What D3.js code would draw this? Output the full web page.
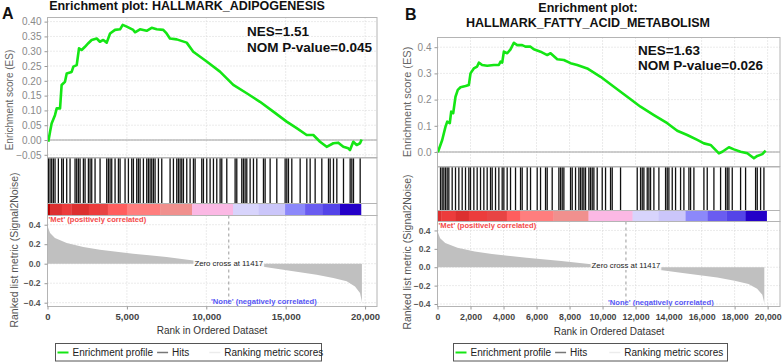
<!DOCTYPE html>
<html>
<head>
<meta charset="utf-8">
<script src="https://cdn.jsdelivr.net/npm/d3@7"></script>
<style>
body { margin: 0; background: #fff; }
svg { display: block; font-family: "Liberation Sans", Arial, sans-serif; }
</style>
</head>
<body>
<svg width="783" height="362"></svg>
<script>
// running enrichment score, panel A (rank, ES)
const esRanksA = [50, 160, 260, 470, 580, 790, 890, 1100, 1210, 1520, 1630, 1840, 1985, 2150, 2360, 2570, 2780, 3100, 3300, 3510, 3730, 3940, 4250, 4570, 4735, 4990, 5400, 5510, 5825, 6245, 6560, 6875, 7290, 7500, 7710, 8140, 8765, 9180, 10025, 10860, 11700, 12545, 13380, 14220, 15060, 15690, 16320, 16740, 17160, 17580, 18000, 18310, 18630, 18940, 19050, 19255, 19470, 19680, 19785];
const esValuesA = [-0.006, 0.028, 0.056, 0.084, 0.107, 0.107, 0.186, 0.197, 0.225, 0.23, 0.248, 0.253, 0.31, 0.304, 0.315, 0.327, 0.338, 0.343, 0.332, 0.338, 0.329, 0.36, 0.372, 0.374, 0.389, 0.383, 0.372, 0.364, 0.374, 0.369, 0.379, 0.374, 0.372, 0.36, 0.343, 0.34, 0.329, 0.298, 0.265, 0.231, 0.186, 0.158, 0.129, 0.096, 0.062, 0.04, 0.017, 0.017, -0.006, -0.023, -0.011, -0.009, -0.023, -0.028, -0.034, -0.006, -0.017, -0.011, 0.002];

// running enrichment score, panel B
const esRanksB = [20, 140, 285, 485, 590, 745, 830, 950, 1090, 1230, 1395, 1700, 1900, 2000, 2200, 2400, 2505, 2705, 3010, 3415, 3715, 3820, 3920, 4020, 4225, 4425, 4625, 4830, 5130, 5330, 5636, 5835, 6240, 6650, 6850, 7255, 7655, 8060, 8465, 9070, 9880, 10685, 11495, 12300, 13110, 13920, 14525, 15130, 15740, 16140, 16545, 17050, 17255, 17655, 17960, 18360, 18770, 19170, 19375, 19680, 19880];
const esValuesB = [-0.001, 0.02, 0.046, 0.097, 0.116, 0.11, 0.154, 0.148, 0.211, 0.237, 0.247, 0.252, 0.256, 0.3, 0.319, 0.326, 0.341, 0.332, 0.329, 0.332, 0.332, 0.345, 0.341, 0.383, 0.377, 0.392, 0.417, 0.408, 0.408, 0.402, 0.402, 0.392, 0.383, 0.37, 0.377, 0.354, 0.351, 0.339, 0.332, 0.319, 0.287, 0.249, 0.211, 0.173, 0.141, 0.11, 0.081, 0.065, 0.046, 0.033, 0.027, -0.005, 0.001, 0.018, 0.01, 0.001, -0.005, -0.024, -0.015, -0.008, 0.005];

// gene set hits (rank positions)
const hitsA = [55, 160, 265, 370, 475, 685, 895, 1000, 1210, 1420, 1735, 1840, 1945, 2050, 2260, 2365, 2575, 2680, 2785, 2995, 3310, 3730, 3835, 3940, 4045, 4255, 4465, 4570, 4885, 5095, 5305, 5410, 5620, 5725, 5830, 6040, 6250, 6355, 6460, 6565, 6670, 6775, 6985, 7195, 7720, 7930, 8140, 8245, 8350, 8455, 8560, 8770, 8980, 9190, 9295, 9715, 9820, 10030, 10240, 10450, 10660, 10870, 10975, 11290, 11815, 11920, 12235, 12340, 12445, 12550, 12760, 12970, 13180, 13600, 13705, 14020, 14440, 14965, 15070, 15175, 15385, 15910, 16330, 16540, 16855, 17275, 17695, 17800, 18010, 18220, 18640, 19060, 19165, 19270, 19690];
const hitsB = [182, 283, 384, 485, 586, 687, 889, 1091, 1293, 1495, 1697, 1899, 2000, 2202, 2404, 2606, 2808, 3010, 3212, 3313, 3515, 3717, 3919, 4020, 4222, 4424, 4727, 5030, 5131, 5434, 5636, 6040, 6242, 6545, 6646, 6949, 7353, 7454, 7555, 7656, 8060, 8161, 8363, 8565, 8666, 8767, 8868, 8969, 9171, 9272, 9373, 9474, 9676, 9979, 10181, 10484, 10585, 11090, 12100, 12302, 12403, 12504, 12706, 12807, 12908, 13110, 13413, 13817, 13918, 14019, 14221, 14423, 14726, 14928, 15231, 15332, 15534, 16140, 16342, 16746, 17150, 17453, 17554, 17655, 17857, 18362, 18665, 19271, 19372, 19574, 19776];

// ranked list metric (same dataset for both panels)
const metricRanks = [0, 160, 470, 1210, 2255, 3300, 5400, 7500, 9180, 10650, 11417, 13380, 14850, 16950, 18000, 18840, 19365, 19680, 19785, 19800];
const metricValues = [0.39, 0.315, 0.264, 0.212, 0.171, 0.144, 0.103, 0.069, 0.034, 0.007, 0, -0.027, -0.062, -0.113, -0.147, -0.181, -0.233, -0.3, -0.38, -0.403];
const zeroCross = 11417;

// colour bar: segment end ranks and heat level
const barEndsA = [150, 900, 1500, 2600, 3300, 3800, 5000, 7090, 9100, 11680, 13300, 14960, 16220, 17300, 18420, 19740];
const barLevelsA = [6, 5, 4, 5, 4, 4.5, 3, 2, 1, 0, -0.5, -1, -2, -2.5, -3, -4];
const barEndsB = [240, 1100, 1900, 3000, 4200, 5030, 7030, 9150, 11820, 13400, 15030, 16360, 17500, 18670, 19940];
const barLevelsB = [6, 5, 4, 5, 4, 4.5, 3, 2, 1, 0, -0.5, -1, -2, -2.5, -3, -4].slice(1);

const heatColor = d3.scaleOrdinal()
    .domain([6, 5, 4.5, 4, 3, 2, 1, 0, -0.5, -1, -2, -2.5, -3, -4])
    .range(["#b80000", "#dc3030", "#e84444", "#ec3c3c", "#ff5e5e", "#ff7e7e", "#f0908e", "#fbb8e4", "#d8d4fc", "#cbc6fa", "#8c88fa", "#6a5cf0", "#5444e8", "#2400c8"]);

const svg = d3.select("svg");

function drawPanel(p) {
    const g = svg.append("g");
    const scX = d3.scaleLinear().domain([0, 20750]).range([p.left, p.right]);
    const scES = d3.scaleLinear().domain(p.esDomain).range([p.esBottom, p.esTop]);
    const scM = d3.scaleLinear().domain(p.rankDomain).range([p.rankBottom, p.rankTop]);
    const w = p.right - p.left;

    // grid lines
    const grid = (ticks, scale, y1, y2, vertical) => {
        g.append("g").selectAll("line").data(ticks).enter().append("line")
            .attr("x1", d => vertical ? scale(d) : p.left)
            .attr("x2", d => vertical ? scale(d) : p.right)
            .attr("y1", d => vertical ? y1 : scale(d))
            .attr("y2", d => vertical ? y2 : scale(d))
            .attr("stroke", "#d6d6d6").attr("stroke-dasharray", "1,2");
    };
    grid(p.xTicks, scX, p.esTop, p.esBottom, true);
    grid(p.esTicks, scES, 0, 0, false);
    grid(p.xTicks, scX, p.rankTop, p.rankBottom, true);
    grid(p.rankTicks, scM, 0, 0, false);

    // ES zero line
    g.append("line")
        .attr("x1", p.left).attr("x2", p.right)
        .attr("y1", scES(0)).attr("y2", scES(0))
        .attr("stroke", "#a0a0a0");

    // enrichment profile
    const esData = p.esRanks.map((r, i) => [r, p.esValues[i]]);
    g.append("path")
        .datum(esData)
        .attr("d", d3.line().x(d => scX(d[0])).y(d => scES(d[1])))
        .attr("fill", "none")
        .attr("stroke", "#14e614")
        .attr("stroke-width", 2.6)
        .attr("stroke-linejoin", "round");

    // hits
    g.append("g").selectAll("line").data(p.hits).enter().append("line")
        .attr("x1", d => scX(d))
        .attr("x2", d => scX(d))
        .attr("y1", p.hitsTop).attr("y2", p.barTop)
        .attr("stroke", "#111")
        .attr("stroke-width", 1.3);

    // colour bar
    const bars = p.barEnds.map((e, i) => ({ start: i ? p.barEnds[i - 1] : 0, end: e, level: p.barLevels[i] }));
    g.append("g").selectAll("rect").data(bars).enter().append("rect")
        .attr("x", d => scX(d.start))
        .attr("width", d => scX(d.end) - scX(d.start) + 0.3)
        .attr("y", p.barTop)
        .attr("height", p.barBottom - p.barTop)
        .attr("fill", d => heatColor(d.level));

    // ranked metric area
    const mData = metricRanks.map((r, i) => [r, metricValues[i]]);
    g.append("path")
        .datum(mData)
        .attr("d", d3.area().x(d => scX(d[0])).y0(scM(0)).y1(d => scM(d[1])))
        .attr("fill", "#c0c0c0");

    // zero cross marker
    const zx = scX(zeroCross);
    g.append("line")
        .attr("x1", zx).attr("x2", zx)
        .attr("y1", p.rankTop).attr("y2", p.rankBottom)
        .attr("stroke", "#9a9a9a").attr("stroke-dasharray", "3,3");
    const zt = g.append("text")
        .attr("x", zx).attr("y", p.zeroY)
        .attr("text-anchor", "middle")
        .attr("font-size", "7.8px")
        .attr("fill", "#222")
        .text("Zero cross at " + zeroCross);
    const bb = zt.node().getBBox();
    g.insert("rect", "text")
        .attr("x", bb.x - 1).attr("y", bb.y).attr("width", bb.width + 2).attr("height", bb.height)
        .attr("fill", "#fff").attr("fill-opacity", 0.85);

    g.append("text")
        .attr("x", p.left + 1).attr("y", p.metY)
        .attr("font-size", "7.6px").attr("font-weight", "bold").attr("fill", "#f44a4a")
        .text("'Met' (positively correlated)");
    g.append("text")
        .attr("x", p.noneX).attr("y", p.noneY)
        .attr("font-size", "7.6px").attr("font-weight", "bold").attr("fill", "#5656f5")
        .text("'None' (negatively correlated)");

    // frames
    const frame = (y1, y2) => g.append("rect")
        .attr("x", p.left).attr("y", y1).attr("width", w).attr("height", y2 - y1)
        .attr("fill", "none").attr("stroke", "#b4b4b4");
    frame(p.esTop, p.esBottom);
    frame(p.hitsTop, p.barBottom);
    frame(p.rankTop, p.rankBottom);
    g.append("line")
        .attr("x1", p.left).attr("x2", p.right)
        .attr("y1", p.barTop).attr("y2", p.barTop)
        .attr("stroke", "#b4b4b4");

    // axes
    const axES = g.append("g")
        .attr("transform", `translate(${p.left},0)`)
        .call(d3.axisLeft(scES).tickValues(p.esTicks).tickFormat(d3.format(p.esFmt)).tickSize(3).tickPadding(3));
    axES.selectAll("text").attr("font-size", "10px").attr("fill", "#8a8a8a").attr("font-family", null);

    const axM = g.append("g")
        .attr("transform", `translate(${p.left},0)`)
        .call(d3.axisLeft(scM).tickValues(p.rankTicks).tickFormat(d3.format(".1f")).tickSize(3).tickPadding(4));
    axM.selectAll("text").attr("font-size", "8.5px").attr("font-weight", "bold").attr("fill", "#555").attr("font-family", null);

    const axX = g.append("g")
        .attr("transform", `translate(0,${p.rankBottom})`)
        .call(d3.axisBottom(scX).tickValues(p.xTicks).tickFormat(d3.format(",")).tickSize(3).tickPadding(4));
    axX.selectAll("text").attr("font-size", p.xTickFont + "px").attr("font-weight", "bold").attr("fill", "#444").attr("font-family", null);

    [axES, axM, axX].forEach(a => {
        a.select(".domain").remove();
        a.selectAll("line").attr("stroke", "#999");
    });

    // labels
    g.append("text")
        .attr("transform", `translate(${p.esLabelX},${p.esLabelY}) rotate(-90)`)
        .attr("text-anchor", "middle")
        .attr("font-size", p.esLabelFont + "px").attr("fill", "#666")
        .text("Enrichment score (ES)");
    g.append("text")
        .attr("transform", `translate(${p.rankLabelX},${p.rankLabelY}) rotate(-90)`)
        .attr("text-anchor", "middle")
        .attr("font-size", "10.5px").attr("fill", "#555")
        .text("Ranked list metric (Signal2Noise)");
    g.append("text")
        .attr("x", p.xTitleX).attr("y", p.xTitleY)
        .attr("text-anchor", "middle")
        .attr("font-size", "10px").attr("fill", "#333")
        .text("Rank in Ordered Dataset");

    // panel letter, title, NES
    g.append("text")
        .attr("x", p.letterX).attr("y", p.letterY)
        .attr("font-size", "16px").attr("font-weight", "bold").attr("fill", "#111")
        .text(p.letter);
    p.title.forEach((t, i) => {
        g.append("text")
            .attr("x", p.titleX).attr("y", p.titleY[i])
            .attr("text-anchor", "middle")
            .attr("font-size", "12.5px").attr("font-weight", "bold").attr("fill", "#111")
            .text(t);
    });
    p.stats.forEach((t, i) => {
        g.append("text")
            .attr("x", p.statX).attr("y", p.statY[i])
            .attr("font-size", "13.5px").attr("font-weight", "bold").attr("fill", "#111")
            .text(t);
    });

    // legend
    const lg = g.append("g");
    lg.append("rect")
        .attr("x", p.legX).attr("y", 343.5).attr("width", p.legW).attr("height", 17.5)
        .attr("fill", "#fff").attr("stroke", "#555");
    const items = [
        { name: "Enrichment profile", color: "#14e614", sw: 2 },
        { name: "Hits", color: "#777", sw: 1.5 },
        { name: "Ranking metric scores", color: "#ececec", sw: 1.5 }
    ];
    let cx = p.legX + 2;
    items.forEach((it, i) => {
        if (i === 2) cx += p.legGap;
        lg.append("line")
            .attr("x1", cx).attr("x2", cx + 11).attr("y1", 352.5).attr("y2", 352.5)
            .attr("stroke", it.color).attr("stroke-width", it.sw);
        const t = lg.append("text")
            .attr("x", cx + 15).attr("y", 356)
            .attr("font-size", "10px").attr("fill", "#222")
            .text(it.name);
        cx += 15 + t.node().getComputedTextLength() + 4;
    });
}

drawPanel({
    letter: "A", letterX: 2, letterY: 19,
    title: ["Enrichment plot: HALLMARK_ADIPOGENESIS"], titleX: 187, titleY: [10],
    stats: ["NES=1.51", "NOM P-value=0.045"], statX: 247, statY: [36, 52],
    left: 47.5, right: 377,
    esTop: 17.5, esBottom: 157.5, esDomain: [-0.0591, 0.4139],
    esTicks: [-0.05, 0, 0.05, 0.1, 0.15, 0.2, 0.25, 0.3, 0.35, 0.4], esFmt: ".2f",
    esRanks: esRanksA, esValues: esValuesA, hits: hitsA,
    hitsTop: 158, barTop: 203.5, barBottom: 215.5, barEnds: barEndsA, barLevels: barLevelsA,
    rankTop: 215.5, rankBottom: 306.5, rankDomain: [-0.4390, 0.4944],
    rankTicks: [-0.4, -0.2, 0, 0.2, 0.4],
    xTicks: [0, 5000, 10000, 15000, 20000], xTickFont: 9.5,
    zeroY: 266, metY: 222, noneX: 211, noneY: 304,
    esLabelX: 13, esLabelY: 100, esLabelFont: 10,
    rankLabelX: 18, rankLabelY: 250,
    xTitleX: 212, xTitleY: 334,
    legX: 55.5, legW: 266, legGap: 16
});

drawPanel({
    letter: "B", letterX: 405, letterY: 20,
    title: ["Enrichment plot:", "HALLMARK_FATTY_ACID_METABOLISM"], titleX: 588, titleY: [12, 27],
    stats: ["NES=1.63", "NOM P-value=0.026"], statX: 638, statY: [55, 70],
    left: 437.5, right: 780,
    esTop: 37.5, esBottom: 166.5, esDomain: [-0.0553, 0.4370],
    esTicks: [0, 0.1, 0.2, 0.3, 0.4], esFmt: ".1f",
    esRanks: esRanksB, esValues: esValuesB, hits: hitsB,
    hitsTop: 167, barTop: 210.5, barBottom: 221.5, barEnds: barEndsB, barLevels: barLevelsB,
    rankTop: 221.5, rankBottom: 306.5, rankDomain: [-0.4270, 0.4973],
    rankTicks: [-0.4, -0.2, 0, 0.2, 0.4],
    xTicks: [0, 2000, 4000, 6000, 8000, 10000, 12000, 14000, 16000, 18000, 20000], xTickFont: 8.8,
    zeroY: 268, metY: 228, noneX: 608, noneY: 305,
    esLabelX: 411, esLabelY: 102, esLabelFont: 11,
    rankLabelX: 411, rankLabelY: 252,
    xTitleX: 609, xTitleY: 335,
    legX: 453.5, legW: 274, legGap: 18
});
</script>
</body>
</html>
